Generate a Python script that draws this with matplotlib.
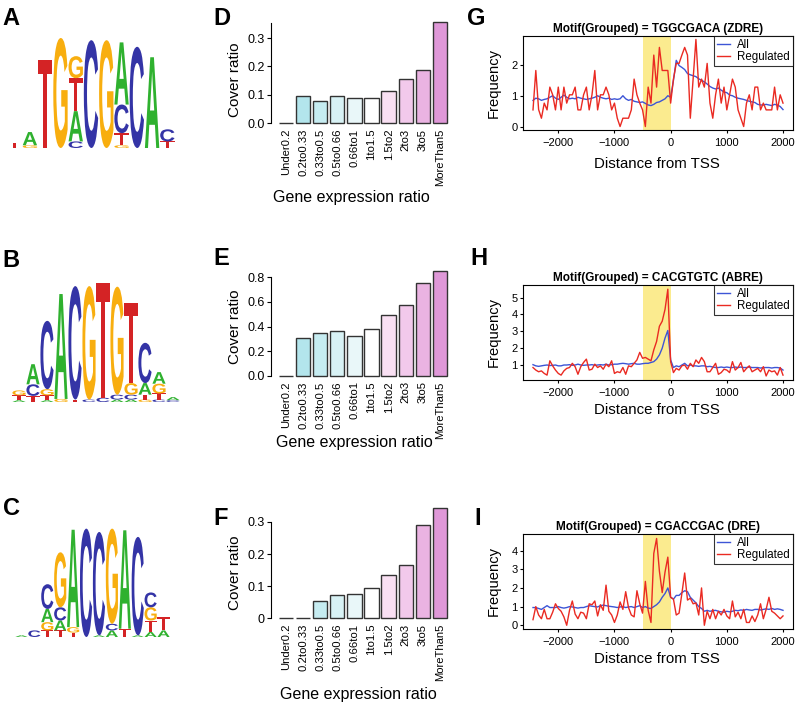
import matplotlib
matplotlib.use("Agg")
import matplotlib.pyplot as plt
from matplotlib.textpath import TextPath
from matplotlib.font_manager import FontProperties
from matplotlib.patches import PathPatch
from matplotlib.transforms import Affine2D

plt.rcParams['font.family'] = ['Liberation Sans', 'DejaVu Sans']

W, H = 800, 705

# sequence logos, each position listed bottom -> top as (base, bits)
logo_A = [
    [('T', 0.10)],
    [('G', 0.05), ('A', 0.24)],
    [('T', 1.60)],
    [('G', 2.00)],
    [('C', 0.12), ('A', 0.55), ('T', 0.60), ('G', 0.40)],
    [('C', 1.96)],
    [('G', 1.96)],
    [('G', 0.05), ('T', 0.22), ('C', 0.52), ('A', 1.13)],
    [('C', 1.84)],
    [('A', 1.65)],
    [('T', 0.12), ('C', 0.22)],
]
logo_B = [
    [('A', 0.03), ('T', 0.08), ('G', 0.08)],
    [('T', 0.10), ('C', 0.19), ('A', 0.33)],
    [('A', 0.03), ('T', 0.08), ('G', 0.10), ('C', 1.12)],
    [('G', 0.05), ('A', 1.72)],
    [('T', 0.04), ('C', 1.86)],
    [('C', 0.04), ('G', 1.86)],
    [('C', 0.07), ('T', 1.88)],
    [('A', 0.04), ('C', 0.08), ('G', 1.77)],
    [('A', 0.04), ('C', 0.08), ('G', 0.19), ('T', 1.31)],
    [('G', 0.04), ('T', 0.08), ('A', 0.19), ('C', 0.66)],
    [('C', 0.04), ('T', 0.10), ('G', 0.16), ('A', 0.19)],
    [('C', 0.03), ('A', 0.05)],
]
logo_C = [
    [('A', 0.03)],
    [('C', 0.12)],
    [('T', 0.12), ('G', 0.15), ('A', 0.24), ('C', 0.45)],
    [('T', 0.12), ('A', 0.18), ('C', 0.24), ('G', 1.00)],
    [('T', 0.08), ('G', 0.10), ('A', 1.77)],
    [('C', 1.97)],
    [('A', 0.03), ('C', 1.88)],
    [('A', 0.12), ('C', 0.12), ('G', 1.73)],
    [('T', 0.15), ('A', 1.79)],
    [('A', 0.03), ('C', 1.79)],
    [('A', 0.09), ('T', 0.21), ('G', 0.24), ('C', 0.27)],
    [('A', 0.12), ('T', 0.24)],
]
base_colors = {'A': '#2fb12f', 'C': '#3434a6', 'G': '#f8ae0f', 'T': '#d42325'}

# cover ratio bars
ratio_bins = ["Under0.2", "0.2to0.33", "0.33to0.5", "0.5to0.66", "0.66to1",
              "1to1.5", "1.5to2", "2to3", "3to5", "MoreThan5"]
cover_D = [0.0, 0.096, 0.079, 0.096, 0.090, 0.089, 0.114, 0.156, 0.188, 0.355]
cover_E = [0.0, 0.304, 0.344, 0.366, 0.325, 0.382, 0.491, 0.578, 0.754, 0.849]
cover_F = [0.0, 0.0, 0.055, 0.072, 0.076, 0.093, 0.136, 0.165, 0.292, 0.345]
bar_colors = ["#a6dde5", "#b3e5ec", "#c6ecf1", "#d8f2f5", "#e9f7f9",
              "#ffffff", "#f9e0f3", "#f2c9eb", "#eab3e2", "#df98d8"]

# motif frequency around TSS (bins of 50 bp, -2450 .. 2000)
dist = list(range(-2450, 2001, 50))
zdre_all = [0.85, 0.92, 0.90, 0.85, 0.88, 0.90, 0.95, 1.00, 0.92, 0.88,
            0.95, 1.02, 0.95, 0.90, 0.92, 0.90, 0.95, 0.92, 0.90, 0.88,
            0.90, 0.92, 0.95, 1.00, 0.95, 0.92, 0.90, 0.92, 0.88, 0.90,
            0.88, 0.90, 1.00, 0.90, 0.85, 0.88, 0.82, 0.80, 0.78, 0.80,
            0.75, 0.70, 0.68, 0.72, 0.78, 0.80, 0.85, 0.90, 1.00, 0.95,
            1.50, 2.15, 1.98, 1.92, 1.85, 1.72, 1.68, 1.65, 1.62, 1.55,
            1.50, 1.45, 1.38, 1.30, 1.25, 1.22, 1.25, 1.18, 1.12, 1.10,
            1.02, 1.00, 0.95, 0.92, 0.90, 0.88, 0.85, 0.82, 0.80, 0.78,
            0.72, 0.70, 0.70, 0.72, 0.70, 0.68, 0.72, 0.70, 0.65, 0.55]
zdre_reg = [0.54, 1.82, 0.55, 0.27, 0.76, 0.54, 1.28, 1.03, 0.54, 1.28,
            0.54, 1.28, 0.76, 1.03, 1.03, 1.28, 0.54, 0.54, 1.03, 1.28,
            0.54, 1.03, 1.82, 0.54, 1.03, 1.03, 1.28, 1.03, 0.54, 0.76,
            0.27, 0.00, 0.27, 0.27, 0.27, 0.54, 1.54, 1.03, 0.76, 0.54,
            0.00, 1.28, 0.76, 2.32, 1.28, 2.57, 1.82, 1.82, 1.82, 0.76,
            1.54, 2.05, 2.05, 2.32, 2.57, 2.32, 0.27, 1.54, 2.83, 1.28,
            1.54, 1.28, 2.05, 0.76, 0.27, 1.03, 1.54, 0.76, 1.28, 0.54,
            1.03, 1.54, 1.28, 0.54, 0.27, 0.00, 0.76, 1.03, 0.54, 1.28,
            1.28, 0.54, 0.76, 0.54, 0.54, 0.54, 1.28, 0.54, 1.03, 0.76]
abre_all = [1.02, 0.95, 0.92, 0.95, 0.98, 1.00, 0.97, 0.98, 1.00, 0.95,
            0.95, 1.00, 1.00, 1.02, 0.98, 1.00, 1.05, 1.00, 0.98, 1.00,
            1.00, 1.02, 0.98, 1.00, 1.02, 1.00, 1.05, 1.00, 1.02, 1.05,
            1.05, 1.08, 1.10, 1.08, 1.05, 1.08, 1.10, 1.05, 1.05, 1.08,
            1.10, 1.10, 1.15, 1.20, 1.35, 1.60, 2.00, 2.60, 3.05, 1.30,
            0.85, 0.95, 0.90, 1.00, 1.10, 0.95, 1.00, 0.95, 0.95, 0.92,
            0.95, 0.95, 0.90, 0.92, 0.88, 0.85, 0.85, 0.88, 0.85, 0.88,
            0.85, 0.85, 0.88, 0.85, 0.88, 0.85, 0.85, 0.88, 0.85, 0.85,
            0.85, 0.82, 0.85, 0.85, 0.85, 0.82, 0.85, 0.85, 0.82, 0.70]
abre_reg = [0.85, 0.70, 0.60, 0.65, 0.50, 0.40, 1.25, 0.95, 0.70, 0.50,
            0.40, 0.65, 0.80, 0.85, 1.10, 0.90, 0.45, 0.90, 1.15, 1.35,
            0.70, 0.75, 1.05, 0.85, 0.95, 0.75, 1.05, 0.90, 1.25, 0.50,
            0.60, 0.55, 0.85, 0.45, 0.95, 0.90, 1.10, 1.30, 1.75, 1.40,
            1.45, 1.35, 1.25, 1.90, 2.40, 3.30, 3.60, 4.30, 5.50, 1.20,
            0.55, 0.80, 0.70, 0.95, 1.00, 0.75, 1.10, 0.90, 1.30, 1.10,
            1.45, 1.20, 0.60, 0.60, 0.85, 1.10, 0.45, 0.55, 0.75, 0.70,
            0.55, 1.20, 0.70, 0.85, 1.15, 0.60, 0.80, 0.95, 0.60, 0.70,
            0.80, 0.60, 0.90, 0.35, 0.70, 0.60, 0.65, 0.40, 0.85, 0.40]
dre_all = [0.95, 0.95, 0.90, 0.85, 0.95, 1.05, 0.95, 0.95, 0.95, 1.00,
           0.95, 0.92, 0.95, 1.00, 0.98, 0.95, 0.92, 0.95, 0.95, 1.00,
           1.05, 1.02, 1.00, 0.98, 1.05, 1.08, 1.05, 1.02, 1.00, 0.98,
           0.95, 0.98, 1.00, 0.95, 0.98, 1.00, 0.95, 1.00, 1.05, 0.95,
           1.00, 0.92, 0.90, 1.00, 1.10, 1.25, 1.50, 1.70, 2.00, 1.50,
           1.40, 1.60, 1.60, 1.75, 1.85, 1.80, 1.50, 1.35, 1.20, 1.00,
           0.90, 0.75, 0.80, 0.75, 0.78, 0.80, 0.75, 0.72, 0.70, 0.75,
           0.72, 0.75, 0.80, 0.78, 0.82, 0.80, 0.85, 0.82, 0.80, 0.85,
           0.85, 0.82, 0.85, 0.88, 0.85, 0.90, 0.85, 0.88, 0.85, 0.80]
dre_reg = [0.30, 1.00, 0.55, 0.35, 0.85, 0.35, 0.35, 0.70, 1.15, 0.90,
           0.75, 0.45, 0.00, 0.80, 1.30, 0.60, 0.35, 0.70, 0.65, 0.35,
           1.15, 1.10, 1.30, 0.50, 1.10, 0.80, 2.15, 0.75, 0.55, 0.15,
           0.55, 1.25, 0.85, 1.80, 0.95, 0.55, 0.45, 1.85, 1.15, 0.65,
           2.35, 0.80, 0.15, 3.85, 4.65, 2.90, 1.75, 2.85, 3.65, 1.50,
           1.40, 0.55, 0.65, 1.70, 2.80, 1.35, 1.45, 1.15, 1.20, 0.55,
           2.00, 0.00, 0.75, 0.35, 0.85, 0.35, 0.75, 0.55, 0.85, 0.50,
           0.35, 1.30, 0.45, 0.70, 0.35, 0.85, 0.15, 0.15, 0.50, 0.20,
           0.55, 1.15, 0.35, 0.85, 1.50, 0.75, 0.65, 0.50, 0.35, 0.50]

fig = plt.figure(figsize=(W / 100, H / 100), dpi=100)


def px_axes(x0, y0, x1, y1):
    return fig.add_axes([x0 / W, 1 - y1 / H, (x1 - x0) / W, (y1 - y0) / H])


def px_text(x, y, s, **kw):
    fig.text(x / W, 1 - y / H, s, **kw)


# ---- sequence logos ----
bold = FontProperties(family='Liberation Sans', weight='bold')


def draw_logo(box, stacks):
    ax = px_axes(*box)
    ax.set_xlim(0, len(stacks))
    ax.set_ylim(0, 2)
    ax.axis('off')
    for i, stack in enumerate(stacks):
        y = 0
        for base, h in stack:
            tp = TextPath((0, 0), base, size=1, prop=bold)
            ext = tp.get_extents()
            tr = (Affine2D().translate(-ext.x0, -ext.y0)
                  .scale(0.94 / ext.width, h / ext.height)
                  .translate(i + 0.03, y))
            ax.add_patch(PathPatch(tr.transform_path(tp), lw=0,
                                   facecolor=base_colors[base]))
            y += h


draw_logo((7, 38, 175, 148), logo_A)
draw_logo((12, 280, 180, 402), logo_B)
draw_logo((15, 527, 170, 637), logo_C)


# ---- cover ratio bar charts ----
def bar_panel(box, vals, ytop, yticks, ylabels, spine_top, xlab_pos, ylab_pos):
    ax = px_axes(*box)
    xs = [i * 1.2 for i in range(len(vals))]
    ax.bar(xs, vals, width=1.0, color=bar_colors, edgecolor='#333333',
           linewidth=1.0, clip_on=False)
    ax.set_xlim(-1.053, -1.053 + (box[2] - box[0]) / 14.25)
    ax.set_ylim(0, ytop)
    for s in ['top', 'right', 'bottom']:
        ax.spines[s].set_visible(False)
    ax.spines['left'].set_bounds(0, spine_top)
    ax.spines['left'].set_linewidth(0.8)
    ax.set_yticks(yticks)
    ax.set_yticklabels(ylabels)
    ax.set_xticks(xs)
    ax.set_xticklabels(ratio_bins, rotation=90)
    ax.tick_params(axis='y', labelsize=9, length=3, width=0.8, pad=1.5)
    ax.tick_params(axis='x', labelsize=8.1, length=0, pad=4)
    px_text(xlab_pos[0], xlab_pos[1], "Gene expression ratio", fontsize=11.5,
            ha='center', va='baseline')
    px_text(ylab_pos[0], ylab_pos[1], "Cover ratio", fontsize=11,
            ha='center', va='center', rotation=90)


bar_panel((271, 20, 452, 123), cover_D, 103 / 283.3, [0, 0.1, 0.2, 0.3],
          ["0.0", "0.1", "0.2", "0.3"], 0.352, (351, 202), (235, 80))
bar_panel((271, 270, 452, 375.7), cover_E, 105.7 / 123, [0, 0.2, 0.4, 0.6, 0.8],
          ["0.0", "0.2", "0.4", "0.6", "0.8"], 0.8, (354, 447), (235, 327))
bar_panel((271, 515, 452, 618.3), cover_F, 103.3 / 321, [0, 0.1, 0.2, 0.3],
          ["0", "0.1", "0.2", "0.3"], 0.3, (358, 699), (235, 573))


# ---- motif position profiles ----
def profile(box, title, v_all, v_reg, ylim, yticks, xlab_y):
    ax = px_axes(*box)
    ax.axvspan(-500, 0, color='#fbeb8f', lw=0, zorder=0)
    ax.plot(dist, v_all, color='#3d55d6', lw=1.0, label='All')
    ax.plot(dist, v_reg, color='#ea2a22', lw=1.0, label='Regulated')
    ax.set_xlim(-2628, 2178)
    ax.set_ylim(*ylim)
    ax.set_xticks([-2000, -1000, 0, 1000, 2000])
    ax.set_yticks(yticks)
    for s in ax.spines.values():
        s.set_linewidth(0.8)
    ax.tick_params(labelsize=8, length=2.5, width=0.8)
    ax.tick_params(axis='x', pad=3.5)
    ax.tick_params(axis='y', pad=1.5)
    ax.set_title(title, fontsize=8.5, fontweight='bold', pad=3)
    leg = ax.legend(loc='upper right', borderaxespad=0, fancybox=False,
                    fontsize=8.3, handlelength=1.2, handletextpad=0.6,
                    labelspacing=0.05, borderpad=0.25)
    leg.get_frame().set_edgecolor('black')
    leg.get_frame().set_linewidth(0.8)
    px_text(657, xlab_y, "Distance from TSS", fontsize=10.8, ha='center',
            va='baseline')
    px_text(494, (box[1] + box[3]) / 2, "Frequency", fontsize=10.6,
            ha='center', va='center', rotation=90)


profile((523, 36, 793, 130), "Motif(Grouped) = TGGCGACA (ZDRE)",
        zdre_all, zdre_reg, (-0.113, 2.94), [0, 1, 2], 168)
profile((523, 285, 793, 380), "Motif(Grouped) = CACGTGTC (ABRE)",
        abre_all, abre_reg, (0.11, 5.75), [1, 2, 3, 4, 5], 414)
profile((523, 534, 793, 629), "Motif(Grouped) = CGACCGAC (DRE)",
        dre_all, dre_reg, (-0.2, 4.89), [0, 1, 2, 3, 4], 663)

# panel letters
for letter, x, y in [('A', 2, 25), ('B', 2, 267), ('C', 3, 515),
                     ('D', 213, 25), ('E', 213, 265), ('F', 213, 525),
                     ('G', 467, 25), ('H', 470, 265), ('I', 474, 525)]:
    px_text(x, y, letter, fontsize=17, fontweight='bold', ha='left',
            va='baseline')

fig.savefig("out.png", dpi=100)
